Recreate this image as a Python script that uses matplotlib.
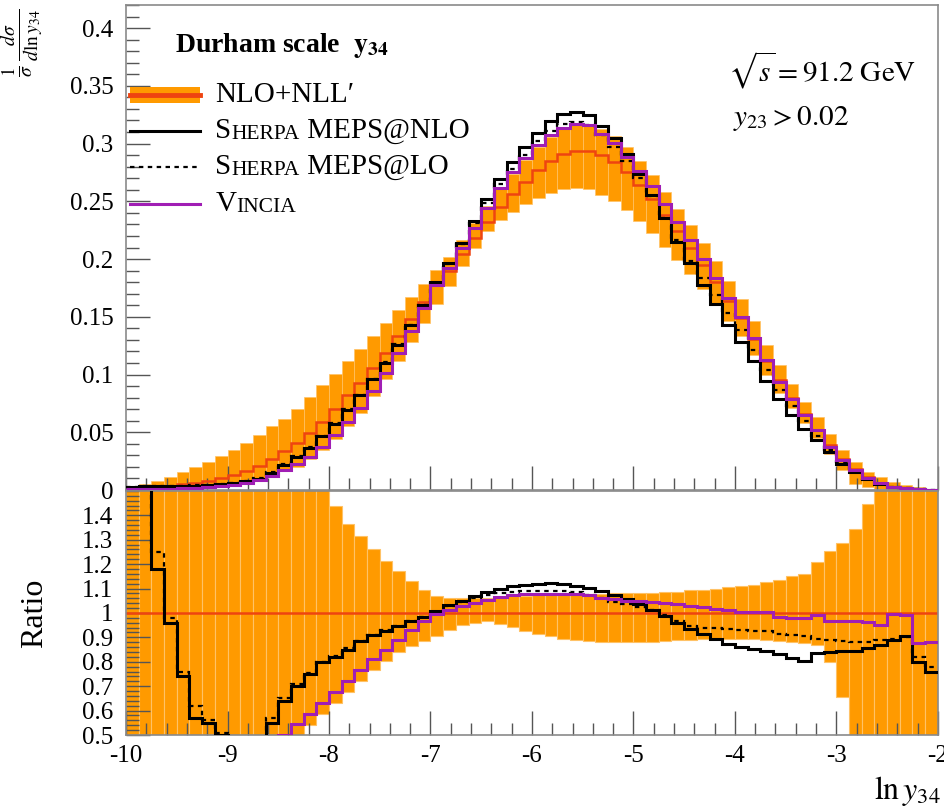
import numpy as np
import matplotlib
matplotlib.use("Agg")
import matplotlib.pyplot as plt
from matplotlib.ticker import MultipleLocator, FixedLocator, FuncFormatter
from matplotlib.patches import Rectangle

plt.rcParams['font.family'] = ['Liberation Serif', 'DejaVu Serif']
plt.rcParams['mathtext.fontset'] = 'stix'
plt.rcParams['axes.unicode_minus'] = False

# binning in ln y34
X_MIN, X_MAX, N_BINS = -10.0, -2.0, 64

# NLO+NLL' central value (1/sigma dsigma/dln y34)
central = [0.0015, 0.0020, 0.0028, 0.0038, 0.0050, 0.0064, 0.0082, 0.0105, 0.0133, 0.0165, 0.0210, 0.0270,
           0.0340, 0.0410, 0.0490, 0.0590, 0.0700, 0.0820, 0.0930, 0.1060, 0.1190, 0.1330, 0.1480, 0.1630,
           0.1780, 0.1900, 0.2040, 0.2180, 0.2320, 0.2450, 0.2560, 0.2670, 0.2770, 0.2850, 0.2910, 0.2940,
           0.2940, 0.2900, 0.2840, 0.2750, 0.2640, 0.2520, 0.2380, 0.2240, 0.2100, 0.1950, 0.1800, 0.1640,
           0.1490, 0.1310, 0.1120, 0.0950, 0.0800, 0.0660, 0.0520, 0.0390, 0.0270, 0.0180, 0.0110, 0.0060,
           0.0030, 0.0018, 0.0009, 0.0004]

# scale uncertainty band, relative to central
band_hi = [2.0, 2.45, 2.86, 2.89, 3.06, 3.11, 2.99, 2.8, 2.6, 2.45, 2.27, 2.04, 1.82, 1.72, 1.65, 1.54,
           1.437, 1.365, 1.314, 1.26, 1.214, 1.171, 1.13, 1.096, 1.068, 1.062,
           1.06, 1.06, 1.062, 1.065, 1.068, 1.07, 1.072, 1.074, 1.075, 1.076, 1.077, 1.078,
           1.08, 1.08, 1.08, 1.081, 1.084, 1.087, 1.092, 1.095, 1.1, 1.105, 1.112, 1.116,
           1.125, 1.135, 1.15, 1.16, 1.21, 1.252, 1.285, 1.342, 1.445, 1.9, 2.3, 2.6, 2.8, 3.0]
band_lo = [0.2, 0.22, 0.25, 0.28, 0.3, 0.32, 0.35, 0.37, 0.4, 0.42, 0.44, 0.46, 0.48, 0.49,
           0.54, 0.585, 0.63, 0.675, 0.72, 0.765, 0.805, 0.84, 0.865, 0.885, 0.905, 0.93,
           0.95, 0.96, 0.966, 0.955, 0.941, 0.928, 0.914, 0.904, 0.895, 0.891, 0.887, 0.882,
           0.881, 0.881, 0.881, 0.883, 0.886, 0.888, 0.89, 0.892, 0.893, 0.895, 0.895, 0.893,
           0.89, 0.887, 0.883, 0.878, 0.87, 0.8, 0.655, 0.3, 0.2, 0.1, 0.05, 0.05, 0.05, 0.05]

# MC predictions as ratio to NLO+NLL'
ratio_nlo = [2.0, 1.7, 1.18, 0.96, 0.74, 0.57, 0.55, 0.50, 0.47, 0.45, 0.47, 0.55,
             0.64, 0.70, 0.75, 0.80, 0.82, 0.85, 0.885, 0.91, 0.925, 0.945, 0.965, 0.985,
             1.01, 1.034, 1.048, 1.068, 1.085, 1.10, 1.11, 1.113, 1.117, 1.122, 1.118, 1.112,
             1.104, 1.088, 1.072, 1.058, 1.035, 1.014, 0.988, 0.96, 0.935, 0.912, 0.893, 0.872,
             0.86, 0.853, 0.845, 0.832, 0.815, 0.805, 0.836, 0.84, 0.846, 0.845, 0.856, 0.87,
             0.89, 0.905, 0.80, 0.76]
ratio_lo = [2.0, 1.75, 1.25, 0.98, 0.76, 0.62, 0.56, 0.51, 0.48, 0.47, 0.49, 0.57,
            0.65, 0.71, 0.755, 0.80, 0.825, 0.855, 0.885, 0.91, 0.93, 0.948, 0.965, 0.985,
            1.005, 1.03, 1.045, 1.06, 1.072, 1.08, 1.085, 1.088, 1.09, 1.09, 1.088, 1.085,
            1.075, 1.06, 1.045, 1.035, 1.025, 1.012, 0.99, 0.965, 0.945, 0.94, 0.937, 0.935,
            0.932, 0.928, 0.925, 0.915, 0.91, 0.905, 0.893, 0.89, 0.885, 0.88, 0.883, 0.89,
            0.895, 0.9, 0.82, 0.78]
ratio_vincia = [0.3, 0.3, 0.3, 0.3, 0.3, 0.3, 0.3, 0.32, 0.35, 0.38, 0.42, 0.46,
                0.50, 0.545, 0.585, 0.63, 0.675, 0.72, 0.765, 0.81, 0.85, 0.89, 0.93, 0.965,
                0.995, 1.012, 1.027, 1.04, 1.054, 1.066, 1.075, 1.077, 1.078, 1.078, 1.077, 1.077,
                1.075, 1.062, 1.058, 1.05, 1.048, 1.044, 1.04, 1.037, 1.03, 1.025, 1.018, 1.012,
                1.005, 1.003, 1.002, 0.983, 0.98, 0.98, 0.993, 0.966, 0.966, 0.965, 0.963, 0.952,
                0.995, 0.99, 0.875, 0.88]

ORANGE = '#FF9A00'
BAR_EDGE = '#FFC266'
RED = '#EE4411'
PURPLE = '#A01EB4'
FRAME = '#8A8A8A'

edges = np.linspace(X_MIN, X_MAX, N_BINS + 1)
centres = 0.5 * (edges[:-1] + edges[1:])
width = edges[1] - edges[0]

c = np.array(central)
hi = np.array(band_hi)
lo = np.array(band_lo)
r_nlo = np.array(ratio_nlo)
r_lo = np.array(ratio_lo)
r_vin = np.array(ratio_vincia)

fig = plt.figure(figsize=(9.44, 8.11), dpi=100)
ax = fig.add_axes([0.1335, 0.3958, 0.86, 0.598])
rax = fig.add_axes([0.1335, 0.0937, 0.86, 0.301], sharex=ax)

# --- main panel
ax.bar(centres, c * (hi - lo), bottom=c * lo, width=width, color=ORANGE,
       edgecolor=BAR_EDGE, linewidth=0.5, zorder=1)
ax.stairs(c, edges, baseline=None, color=RED, lw=1.8, zorder=2)
ax.stairs(c * r_nlo, edges, baseline=None, color='black', lw=2.2, zorder=3)
ax.stairs(c * r_lo, edges, baseline=None, color='black', lw=1.6, ls=(0, (2, 2)), zorder=3)
ax.stairs(c * r_vin, edges, baseline=None, color=PURPLE, lw=2.2, zorder=4)

ax.set_xlim(X_MIN, X_MAX)
ax.set_ylim(0, 0.42)
ax.yaxis.set_major_locator(MultipleLocator(0.05))
ax.yaxis.set_minor_locator(MultipleLocator(0.01))

# --- ratio panel
rax.bar(centres, hi - lo, bottom=lo, width=width, color=ORANGE,
        edgecolor=BAR_EDGE, linewidth=0.8, zorder=1)
rax.axhline(1.0, color=RED, lw=1.8, zorder=2)
rax.stairs(r_lo, edges, baseline=None, color='black', lw=1.6, ls=(0, (2, 2)), zorder=3)
rax.stairs(r_nlo, edges, baseline=None, color='black', lw=2.2, zorder=3)
rax.stairs(r_vin, edges, baseline=None, color=PURPLE, lw=2.2, zorder=4)
rax.set_ylim(0.5, 1.5)
rax.yaxis.set_major_locator(FixedLocator([0.5, 0.6, 0.7, 0.8, 0.9, 1.0, 1.1, 1.2, 1.3, 1.4]))
rax.yaxis.set_minor_locator(MultipleLocator(0.02))
rax.xaxis.set_major_locator(MultipleLocator(1))
rax.xaxis.set_minor_locator(MultipleLocator(0.2))

fmt = FuncFormatter(lambda v, p: '%g' % round(v, 3))
for a in (ax, rax):
    a.yaxis.set_major_formatter(fmt)
    a.xaxis.set_major_formatter(fmt)
    a.tick_params(which='both', direction='in', top=False, right=False,
                  color='#555555', width=1, labelsize=18)
    a.tick_params(which='major', length=17)
    a.tick_params(which='minor', length=9)
    a.tick_params(axis='y', pad=9)
    a.tick_params(axis='x', pad=7)
    for s in a.spines.values():
        s.set_color(FRAME)
        s.set_linewidth(1.2)
ax.tick_params(labelbottom=False)

# --- legend (drawn by hand, rivet style)
tr = ax.transAxes
hx0, hx1, tx = 0.005, 0.091, 0.11
rows = [0.814, 0.740, 0.666, 0.590]
ax.add_patch(Rectangle((hx0, rows[0] - 0.016), hx1 - hx0, 0.032, transform=tr,
                       color=ORANGE, lw=0, zorder=5))
ax.plot([hx0, hx1], [rows[0]] * 2, transform=tr, color=RED, lw=3.5, zorder=6)
ax.plot([hx0, hx1], [rows[1]] * 2, transform=tr, color='black', lw=2.2, zorder=6)
ax.plot([hx0, hx1], [rows[2]] * 2, transform=tr, color='black', lw=1.6, ls=(0, (2, 2)), zorder=6)
ax.plot([hx0, hx1], [rows[3]] * 2, transform=tr, color=PURPLE, lw=2.2, zorder=6)


def caps_label(y, pieces):
    prev = ax.text(tx, y, pieces[0][0], fontsize=pieces[0][1], transform=tr,
                   va='center', ha='left')
    for s, fs in pieces[1:]:
        prev = ax.annotate(s, xy=(1, 0), xycoords=prev, fontsize=fs,
                           va='bottom', ha='left')


caps_label(rows[0], [('NLO+NLL\u2032', 21)])
caps_label(rows[1], [('S', 21), ('HERPA', 15.5), (' MEPS@NLO', 21)])
caps_label(rows[2], [('S', 21), ('HERPA', 15.5), (' MEPS@LO', 21)])
caps_label(rows[3], [('V', 21), ('INCIA', 15.5)])

ax.text(0.060, 0.917, r'Durham scale  $\mathbf{y_{34}}$', transform=tr, fontsize=20,
        fontweight='bold', va='center', ha='left')
ax.text(0.741, 0.866, r'$\sqrt{s} = 91.2\ \mathrm{GeV}$', transform=tr, fontsize=21,
        va='center', ha='left')
ax.text(0.748, 0.767, r'$y_{23} > 0.02$', transform=tr, fontsize=21,
        va='center', ha='left')

# axis labels
fig.text(0.024, 0.99, r'$\frac{1}{\sigma}\,\frac{d\sigma}{d\ln y_{34}}$', rotation=90,
         va='top', ha='center', fontsize=20)
fig.text(0.037, 0.244, 'Ratio', rotation=90, va='center', ha='center', fontsize=23)
fig.text(0.997, 0.015, r'$\ln y_{34}$', ha='right', va='baseline', fontsize=23)

fig.savefig('out.png', dpi=100)
